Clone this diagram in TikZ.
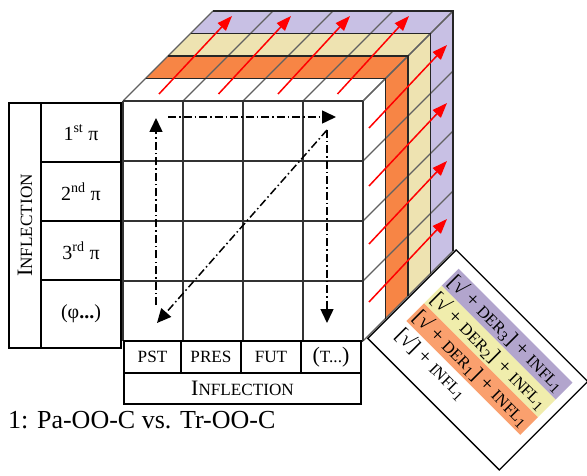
\documentclass[tikz,border=0pt]{standalone}
\usepackage{fontspec}
\setmainfont{Liberation Serif}
\usepackage{xcolor}
\usepackage{graphicx}
\usetikzlibrary{arrows.meta, positioning, calc}
\definecolor{cubeorange}{RGB}{247, 133, 69}
\definecolor{cubeyellow}{RGB}{238, 227, 177}
\definecolor{cubepurple}{RGB}{200, 192, 228}
\definecolor{legpurple}{RGB}{178, 165, 205}
\definecolor{legyellow}{RGB}{240, 237, 172}
\definecolor{legorange}{RGB}{250, 160, 110}
\newcommand{\fakesc}[1]{\scalebox{0.78}{#1}}
\tikzset{
  tabcell/.style={
    draw=black, line width=1.2pt, inner sep=0pt, outer sep=0pt,
    align=center, font=\fontsize{20}{24}\selectfont
  },
  picell/.style={tabcell, minimum width=80pt, minimum height=59pt},
  tensecell/.style={tabcell, minimum width=60pt, minimum height=32pt, font=\fontsize{22}{26}\selectfont},
  gridline/.style={draw=black!80, line width=1.3pt},
  layerline/.style={draw=black!85, line width=1.3pt},
  depthline/.style={draw=black!62, line width=1.1pt},
  redflow/.style={draw=red, line width=1.5pt, -{Triangle[length=15pt, width=11pt]}},
  pathflow/.style={
    draw=black, line width=1.5pt, dash pattern=on 8pt off 3pt on 1.5pt off 3pt,
    -{Triangle[length=14pt, width=13pt]}
  },
  legendbox/.style={draw=black, line width=1.3pt, fill=white},
  legendtext/.style={anchor=west, inner sep=1pt, font=\fontsize{21}{24}\selectfont}
}

\begin{document}
\begin{tikzpicture}[x=1pt, y=-1pt]
  \useasboundingbox (0,0) rectangle (587,476);

  % Legend
  \begin{scope}[shift={(479.5,361)}, rotate=-45, transform shape]
    \draw[legendbox] (-95,-62) rectangle (91,63);
    \fill[legpurple] (-80,-50.5) rectangle (81,-26.5);
    \fill[legyellow] (-80,-26.5) rectangle (81,-1.5);
    \fill[legorange] (-80,-1.5) rectangle (81,23.5);
    \node[legendtext] (der3) at (-79,-38.5) {[√ + \fakesc{DER}\textsubscript{3}] + \fakesc{INFL}\textsubscript{1}};
    \node[legendtext] (der2) at (-79,-14) {[√ + \fakesc{DER}\textsubscript{2}] + \fakesc{INFL}\textsubscript{1}};
    \node[legendtext] (der1) at (-79,11) {[√ + \fakesc{DER}\textsubscript{1}] + \fakesc{INFL}\textsubscript{1}};
    \node[legendtext] (root) at (-79,36) {[√] + \fakesc{INFL}\textsubscript{1}};
  \end{scope}

  % Cube layers, back to front
  \foreach \k/\col in {3/cubepurple, 2/cubeyellow, 1/cubeorange, 0/white} {
    \fill[\col] ({123+22.5*\k},{101-22.5*\k}) -- ++(240,0) -- ++(22.5,-22.5) -- ++(-240,0) -- cycle;
    \fill[\col] ({363+22.5*\k},{101-22.5*\k}) -- ++(22.5,-22.5) -- ++(0,240) -- ++(-22.5,22.5) -- cycle;
  }
  \foreach \i in {0,...,4} {
    \draw[depthline] ({123+60*\i},101) -- ++(90,-90);
    \draw[depthline] (363,{101+60*\i}) -- ++(90,-90);
  }
  \foreach \k in {1,...,4} {
    \draw[layerline] ({123+22.5*\k},{101-22.5*\k}) -- ++(240,0) -- ++(0,240);
  }

  % Front face
  \fill[white] (123,101) rectangle (363,341);
  \foreach \i in {0,...,4} {
    \draw[gridline] ({123+60*\i},101) -- ({123+60*\i},341);
    \draw[gridline] (123,{101+60*\i}) -- (363,{101+60*\i});
  }

  % Red arrows through the layers
  \foreach \i in {0,...,3} {
    \coordinate (topS\i) at ({159+59.5*\i},94);
    \coordinate (topE\i) at ({232+59*\i},16);
    \draw[redflow] (topS\i) -- (topE\i);
    \coordinate (sideS\i) at (369,{128+58*\i});
    \coordinate (sideE\i) at (447,{45+58*\i});
    \draw[redflow] (sideS\i) -- (sideE\i);
  }

  % Paths on the front face
  \coordinate (leftB) at (156,305);
  \coordinate (leftT) at (156,118);
  \coordinate (topL) at (168,117);
  \coordinate (topR) at (336,117);
  \coordinate (rightT) at (327,130);
  \coordinate (rightB) at (327,323);
  \coordinate (diagB) at (157,323);
  \draw[pathflow] (leftB) -- (leftT);
  \draw[pathflow] (topL) -- (topR);
  \draw[pathflow] (rightT) -- (rightB);
  \draw[pathflow] (rightT) -- (diagB);

  % Left table
  \node[tabcell, minimum width=245pt, minimum height=32pt, rotate=90,
        font=\fontsize{22}{26}\selectfont] (inflV) at (25,225.5) {I\fakesc{NFLECTION}};
  \node[picell] (pi1) at (81,132.5) {1\textsuperscript{st} π};
  \node[picell, below=0pt of pi1] (pi2) {2\textsuperscript{nd} π};
  \node[picell, below=0pt of pi2] (pi3) {3\textsuperscript{rd} π};
  \node[picell, minimum height=68pt, below=0pt of pi3] (phi) {(φ\textbf{...})};

  % Bottom table
  \node[tensecell, minimum width=57pt] (pst) at (152.5,357) {\fakesc{PST}};
  \node[tensecell, right=0pt of pst] (pres) {\fakesc{PRES}};
  \node[tensecell, right=0pt of pres] (fut) {\fakesc{FUT}};
  \node[tensecell, right=0pt of fut] (tns) {(\fakesc{T...})};
  \node[tensecell, minimum width=237pt, minimum height=31pt, anchor=north west] (inflH)
    at (pst.south west) {I\fakesc{NFLECTION}};

  % Caption
  \node[anchor=base west, inner sep=0pt, font=\fontsize{26}{30}\selectfont] (caption)
    at (8,428) {1: Pa-OO-C vs. Tr-OO-C};

\end{tikzpicture}
\end{document}
